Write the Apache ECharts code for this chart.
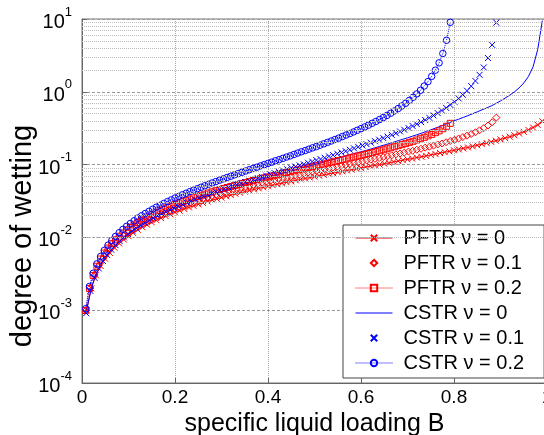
<!DOCTYPE html>
<html>
<head>
<meta charset="utf-8">
<script src="https://cdn.jsdelivr.net/npm/echarts@6/dist/echarts.min.js"></script>
<style>html,body{margin:0;padding:0;background:#fff}#c{width:544px;height:435px}</style>
</head>
<body>
<div id="c"></div>
<script>
// sampling steps in B (100 samples up to B_max = 1, 0.9, 0.8)
const stepNu0 = 0.01, stepNu01 = 0.009, stepNu02 = 0.008;

const pftr0 = [0.000995, 0.002, 0.00302, 0.00404, 0.00508, 0.00612, 0.00718, 0.00825, 0.00933, 0.0104,
 0.0115, 0.0127, 0.0138, 0.0149, 0.0161, 0.0172, 0.0184, 0.0196, 0.0208, 0.0221,
 0.0233, 0.0246, 0.0258, 0.0271, 0.0284, 0.0298, 0.0311, 0.0325, 0.0338, 0.0352,
 0.0367, 0.0381, 0.0396, 0.041, 0.0425, 0.0441, 0.0456, 0.0472, 0.0488, 0.0504,
 0.0521, 0.0538, 0.0555, 0.0572, 0.059, 0.0608, 0.0626, 0.0645, 0.0664, 0.0683,
 0.0703, 0.0723, 0.0744, 0.0765, 0.0786, 0.0808, 0.0831, 0.0854, 0.0877, 0.0901,
 0.0926, 0.0951, 0.0977, 0.1, 0.103, 0.106, 0.109, 0.112, 0.115, 0.118,
 0.121, 0.125, 0.128, 0.132, 0.136, 0.14, 0.144, 0.148, 0.152, 0.157,
 0.162, 0.167, 0.172, 0.178, 0.184, 0.191, 0.198, 0.205, 0.213, 0.222,
 0.231, 0.242, 0.253, 0.267, 0.282, 0.3, 0.323, 0.351, 0.392, 0.461];

const pftr01 = [0.001, 0.00202, 0.00304, 0.00407, 0.00512, 0.00618, 0.00724, 0.00832, 0.00941, 0.0105,
 0.0116, 0.0128, 0.0139, 0.0151, 0.0162, 0.0174, 0.0186, 0.0198, 0.021, 0.0223,
 0.0235, 0.0248, 0.0261, 0.0274, 0.0287, 0.03, 0.0314, 0.0328, 0.0342, 0.0356,
 0.037, 0.0385, 0.04, 0.0415, 0.043, 0.0445, 0.0461, 0.0477, 0.0493, 0.051,
 0.0526, 0.0543, 0.0561, 0.0578, 0.0596, 0.0615, 0.0633, 0.0652, 0.0671, 0.0691,
 0.0711, 0.0732, 0.0753, 0.0774, 0.0796, 0.0819, 0.0841, 0.0865, 0.0889, 0.0913,
 0.0939, 0.0964, 0.0991, 0.102, 0.105, 0.107, 0.11, 0.114, 0.117, 0.12,
 0.123, 0.127, 0.13, 0.134, 0.138, 0.142, 0.146, 0.151, 0.155, 0.16,
 0.165, 0.171, 0.176, 0.182, 0.189, 0.195, 0.203, 0.211, 0.219, 0.228,
 0.239, 0.25, 0.263, 0.278, 0.296, 0.317, 0.344, 0.382, 0.442];

const pftr02 = [0.00099, 0.00199, 0.003, 0.00402, 0.00505, 0.00609, 0.00714, 0.00821, 0.00928, 0.0104,
 0.0115, 0.0126, 0.0137, 0.0148, 0.016, 0.0172, 0.0183, 0.0195, 0.0207, 0.0219,
 0.0232, 0.0244, 0.0257, 0.027, 0.0283, 0.0296, 0.0309, 0.0323, 0.0336, 0.035,
 0.0364, 0.0379, 0.0393, 0.0408, 0.0423, 0.0438, 0.0453, 0.0469, 0.0485, 0.0501,
 0.0517, 0.0534, 0.0551, 0.0568, 0.0586, 0.0604, 0.0622, 0.064, 0.0659, 0.0678,
 0.0698, 0.0718, 0.0738, 0.0759, 0.078, 0.0802, 0.0824, 0.0847, 0.087, 0.0894,
 0.0918, 0.0943, 0.0969, 0.0995, 0.102, 0.105, 0.108, 0.111, 0.114, 0.117,
 0.12, 0.124, 0.127, 0.131, 0.134, 0.138, 0.142, 0.146, 0.151, 0.155,
 0.16, 0.165, 0.17, 0.176, 0.182, 0.188, 0.194, 0.202, 0.209, 0.218,
 0.227, 0.237, 0.248, 0.26, 0.275, 0.291, 0.311, 0.336, 0.369];

const cstr0 = [0.00101, 0.00204, 0.00309, 0.00417, 0.00526, 0.00638, 0.00753, 0.0087, 0.00989, 0.0111,
 0.0124, 0.0136, 0.0149, 0.0163, 0.0176, 0.019, 0.0205, 0.022, 0.0235, 0.025,
 0.0266, 0.0282, 0.0299, 0.0316, 0.0333, 0.0351, 0.037, 0.0389, 0.0408, 0.0429,
 0.0449, 0.0471, 0.0493, 0.0515, 0.0538, 0.0563, 0.0587, 0.0613, 0.0639, 0.0667,
 0.0695, 0.0724, 0.0754, 0.0786, 0.0818, 0.0852, 0.0887, 0.0923, 0.0961, 0.1,
 0.104, 0.108, 0.113, 0.117, 0.122, 0.127, 0.133, 0.138, 0.144, 0.15,
 0.156, 0.163, 0.17, 0.178, 0.186, 0.194, 0.203, 0.213, 0.223, 0.233,
 0.245, 0.257, 0.27, 0.285, 0.3, 0.317, 0.335, 0.355, 0.376, 0.4,
 0.42, 0.445, 0.47, 0.5, 0.53, 0.565, 0.6, 0.64, 0.69, 0.75,
 0.82, 0.9, 1.0, 1.13, 1.32, 1.62, 2.2, 3.8, 9.5];

const cstr01 = [0.000909, 0.00184, 0.00278, 0.00375, 0.00474, 0.00574, 0.00677, 0.00783, 0.0089, 0.01,
 0.0111, 0.0123, 0.0134, 0.0147, 0.0159, 0.0171, 0.0184, 0.0198, 0.0211, 0.0225,
 0.0239, 0.0254, 0.0269, 0.0284, 0.03, 0.0316, 0.0333, 0.035, 0.0368, 0.0386,
 0.0404, 0.0424, 0.0443, 0.0464, 0.0485, 0.0506, 0.0529, 0.0552, 0.0575, 0.06,
 0.0625, 0.0652, 0.0679, 0.0707, 0.0736, 0.0767, 0.0798, 0.0831, 0.0865, 0.09,
 0.0937, 0.0975, 0.101, 0.106, 0.11, 0.115, 0.119, 0.124, 0.13, 0.135,
 0.141, 0.147, 0.153, 0.16, 0.167, 0.175, 0.183, 0.191, 0.2, 0.21,
 0.22, 0.231, 0.243, 0.256, 0.27, 0.285, 0.301, 0.319, 0.339, 0.36,
 0.384, 0.41, 0.439, 0.473, 0.51, 0.553, 0.602, 0.66, 0.728, 0.81,
 0.91, 1.035, 1.196, 1.41, 1.71, 2.16, 2.91, 4.41, 8.91];

const cstr02 = [0.00105, 0.00212, 0.00322, 0.00433, 0.00547, 0.00664, 0.00783, 0.00904, 0.0103, 0.0116,
 0.0129, 0.0142, 0.0155, 0.0169, 0.0184, 0.0198, 0.0213, 0.0228, 0.0244, 0.026,
 0.0276, 0.0293, 0.0311, 0.0328, 0.0347, 0.0365, 0.0385, 0.0404, 0.0425, 0.0446,
 0.0467, 0.0489, 0.0512, 0.0536, 0.056, 0.0585, 0.0611, 0.0637, 0.0665, 0.0693,
 0.0723, 0.0753, 0.0785, 0.0817, 0.0851, 0.0886, 0.0922, 0.096, 0.0999, 0.104,
 0.108, 0.113, 0.117, 0.122, 0.127, 0.132, 0.138, 0.144, 0.15, 0.156,
 0.163, 0.17, 0.177, 0.185, 0.193, 0.202, 0.211, 0.221, 0.231, 0.243,
 0.255, 0.267, 0.281, 0.296, 0.312, 0.329, 0.348, 0.369, 0.391, 0.416,
 0.443, 0.474, 0.508, 0.546, 0.589, 0.639, 0.696, 0.763, 0.841, 0.936,
 1.05, 1.2, 1.38, 1.63, 1.98, 2.5, 3.36, 5.1, 9.0];

const seriesNames = ['PFTR \u03bd = 0', 'PFTR \u03bd = 0.1', 'PFTR \u03bd = 0.2',
                     'CSTR \u03bd = 0', 'CSTR \u03bd = 0.1', 'CSTR \u03bd = 0.2'];
const xTitle = 'specific liquid loading B';
const yTitle = 'degree of wetting';
const minorMultipliers = [2, 3, 4, 5, 6, 7, 8, 9];
const decades = [1e-4, 1e-3, 1e-2, 1e-1, 1];

const FONT = 'Liberation Sans, Arial, Helvetica, sans-serif';
const RED = '#ff0000', BLUE = '#0000ff';
const CLEAR = 'rgba(0,0,0,0)';
const X_PATH = 'path://M0,0L10,10M10,0L0,10';

function toPairs(Y, step) {
  return Y.map((y, i) => [+((i + 1) * step).toFixed(4), y]);
}
function mk(name, Y, step, color, symbol, size, lineType, showLine, showSym) {
  return {
    type: 'line', name, data: toPairs(Y, step),
    symbol, symbolSize: size, showSymbol: showSym, symbolKeepAspect: true,
    itemStyle: { color: CLEAR, borderColor: showSym ? color : CLEAR, borderWidth: 1 },
    lineStyle: { color, width: 1, type: lineType, opacity: showLine ? 1 : 0 },
    emphasis: { disabled: true }, silent: true, clip: true
  };
}

const minorVals = [];
decades.forEach(d => minorMultipliers.forEach(m => minorVals.push(+(m * d).toPrecision(3))));

const chart = echarts.init(document.getElementById('c'), null, { renderer: 'canvas' });
chart.setOption({
  animation: false,
  backgroundColor: '#fff',
  textStyle: { fontFamily: FONT },
  grid: { left: 82, right: -3, top: 19, bottom: 52, show: true, borderColor: '#777', borderWidth: 1,
          containLabel: false, outerBoundsMode: 'none' },
  xAxis: {
    type: 'value', min: 0, max: 1, interval: 0.2,
    axisLine: { lineStyle: { color: '#666' } },
    axisTick: { inside: true, length: 5, lineStyle: { color: '#666' } },
    axisLabel: { color: '#000', fontSize: 19, fontFamily: FONT, margin: 5, hideOverlap: false,
      formatter: v => (v === 0 ? '0' : v === 1 ? '1' : v.toFixed(1)) },
    splitLine: { show: true, lineStyle: { type: 'dotted', color: '#aaa' } },
    name: xTitle, nameLocation: 'middle', nameGap: 20,
    nameTextStyle: { fontSize: 25, color: '#000', fontFamily: FONT }
  },
  yAxis: {
    type: 'log', logBase: 10, min: 1e-4, max: 10,
    axisLine: { show: true, lineStyle: { color: '#666' } },
    axisTick: { inside: true, length: 5, lineStyle: { color: '#666' } },
    axisLabel: {
      color: '#000', margin: 10, fontFamily: FONT,
      formatter: v => '{b|10}{s|' + Math.round(Math.log10(v)) + '}',
      rich: {
        b: { fontSize: 20, fontFamily: FONT, color: '#000', padding: [7, 0, 0, 0] },
        s: { fontSize: 13, fontFamily: FONT, color: '#000', verticalAlign: 'top' }
      }
    },
    splitLine: { show: true, lineStyle: { type: [3, 2], color: '#999' } }
  },
  graphic: [{
    type: 'text', x: 23, y: 236, rotation: Math.PI / 2, silent: true,
    style: { text: yTitle, fontSize: 29, fontFamily: FONT, fill: '#000', align: 'center', verticalAlign: 'middle' }
  }],
  legend: {
    left: 343, top: 225, orient: 'vertical',
    itemWidth: 37, itemHeight: 8, itemGap: 5,
    padding: [3, 20, 5, 12],
    backgroundColor: '#fff', borderColor: '#444', borderWidth: 1,
    lineStyle: { width: 1 },
    textStyle: { fontSize: 20, lineHeight: 20, color: '#000', fontFamily: FONT, padding: [0, 0, 0, 6] },
    data: seriesNames, selectedMode: false
  },
  series: [
    {
      type: 'line', name: 'grid', data: [[0.5, 1]], showSymbol: false, silent: true,
      lineStyle: { opacity: 0 },
      markLine: {
        silent: true, symbol: ['none', 'none'], animation: false,
        label: { show: false },
        lineStyle: { type: 'dotted', color: '#bbb', width: 1 },
        emphasis: { disabled: true },
        data: minorVals.map(v => ({ yAxis: v }))
      }
    },
    mk(seriesNames[0], pftr0, stepNu0, RED, X_PATH, 6, 'solid', true, true),
    mk(seriesNames[1], pftr01, stepNu01, RED, 'diamond', 7, 'solid', false, true),
    mk(seriesNames[2], pftr02, stepNu02, RED, 'rect', 6, 'dotted', true, true),
    mk(seriesNames[3], cstr0, stepNu0, BLUE, 'circle', 6, 'solid', true, false),
    mk(seriesNames[4], cstr01, stepNu01, BLUE, X_PATH, 6, 'solid', false, true),
    mk(seriesNames[5], cstr02, stepNu02, BLUE, 'circle', 6.5, 'dotted', true, true)
  ]
});
</script>
</body>
</html>
